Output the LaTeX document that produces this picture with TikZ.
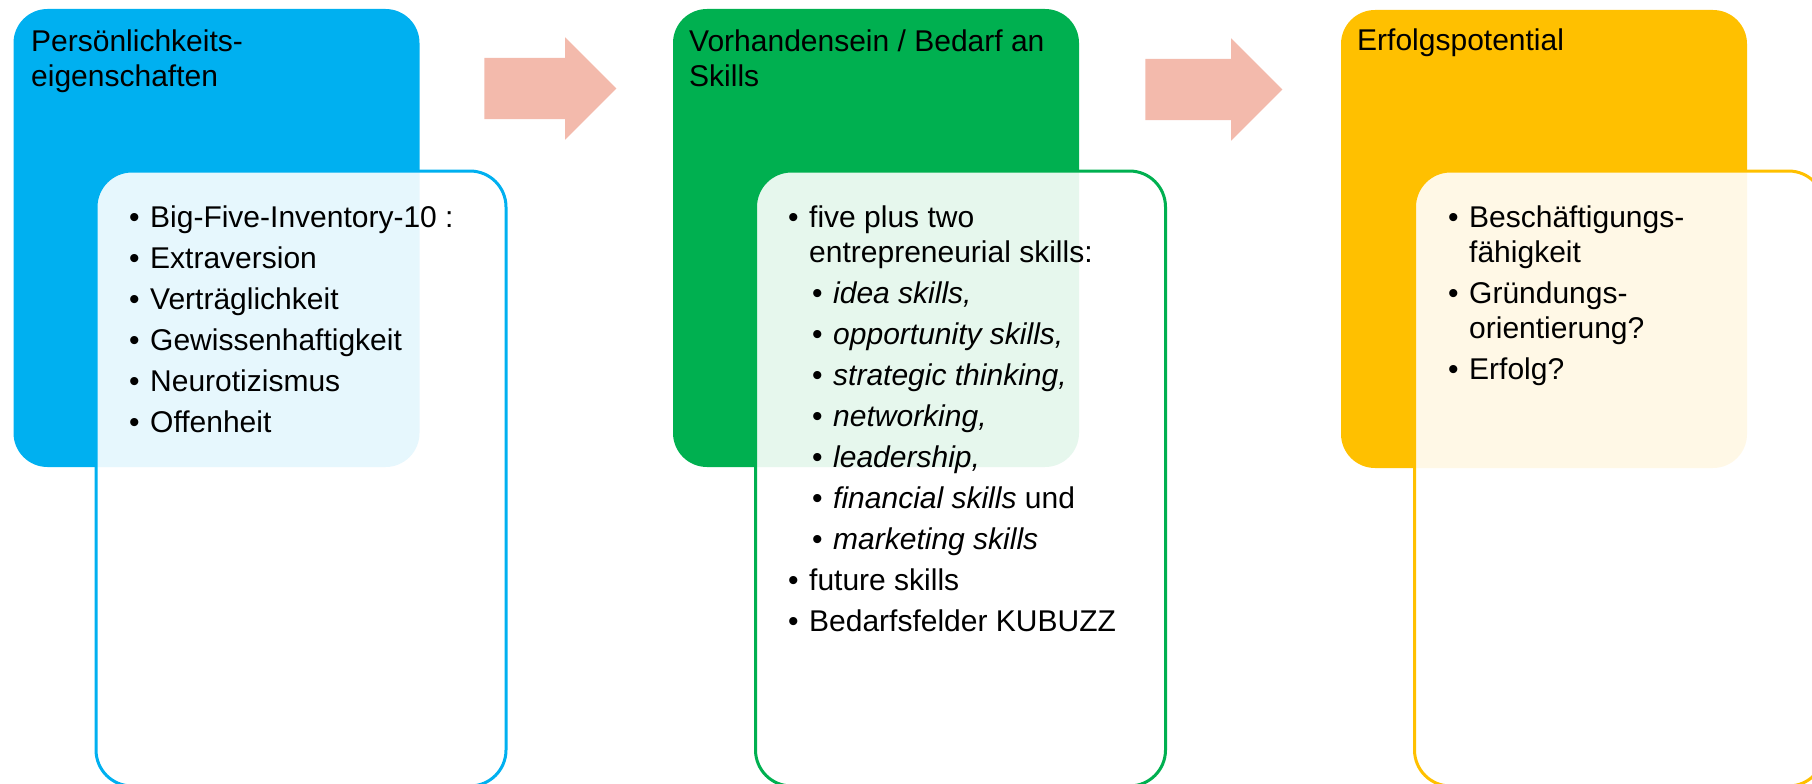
\documentclass[tikz,border=0pt]{standalone}
\usepackage{fontspec}
\setmainfont{Liberation Sans}
\usetikzlibrary{shapes.arrows}
\definecolor{cblue}{HTML}{00B0F0}
\definecolor{cgreen}{HTML}{00B050}
\definecolor{cyellow}{HTML}{FFC000}
\definecolor{carrow}{HTML}{F3BAAC}
\newcommand{\bul}{\llap{\textbullet\hspace{10.5pt}}}

\begin{document}
\begin{tikzpicture}[x=1pt,y=-1pt]
        \tikzstyle{outerbox}=[rectangle,rounded corners=34pt,inner sep=0pt,minimum width=406pt,minimum height=458pt]
        \tikzstyle{innerbox}=[rectangle,rounded corners=36pt,line width=3pt,fill=white,fill opacity=0.9,inner sep=0pt,minimum width=410pt,minimum height=615pt]
        \tikzstyle{headline}=[anchor=base west,inner sep=0pt,align=left,font=\fontsize{30}{35}\selectfont]
        \tikzstyle{itm}=[anchor=base west,inner sep=0pt,align=left,font=\fontsize{30}{35}\selectfont]
        \tikzstyle{flow}=[single arrow,fill=carrow,inner xsep=0pt,inner ysep=30.5pt,single arrow head extend=20.5pt,single arrow head indent=0pt]
        \useasboundingbox (0,0) rectangle (1812,784);

        % the three stages
        \node [outerbox,fill=cblue] (pers) at (216.5,238) {};
        \node [outerbox,fill=cgreen] (skill) at (876,238) {};
        \node [outerbox,fill=cyellow] (pot) at (1544,239) {};

        \node [flow,minimum height=132pt] (a1) at (535,88.5) {};
        \node [flow,minimum height=137pt] (a2) at (1198.5,89.5) {};

        \node [innerbox,draw=cblue] (persin) at (301,478.5) {};
        \node [innerbox,draw=cgreen] (skillin) at (960.5,478.5) {};
        \node [innerbox,draw=cyellow] (potin) at (1619.5,478.5) {};

        % headlines (base = last line)
        \node [headline] (t1) at (31,86) {Persönlichkeits-\\eigenschaften};
        \node [headline] (t2) at (689,86) {Vorhandensein / Bedarf an\\Skills};
        \node [headline] (t3) at (1357,51) {Erfolgspotential};

        % Persoenlichkeit
        \node [itm] (p1) at (150,227) {\bul Big-Five-Inventory-10 :};
        \node [itm] (p2) at (150,268) {\bul Extraversion};
        \node [itm] (p3) at (150,309) {\bul Verträglichkeit};
        \node [itm] (p4) at (150,350) {\bul Gewissenhaftigkeit};
        \node [itm] (p5) at (150,391) {\bul Neurotizismus};
        \node [itm] (p6) at (150,432) {\bul Offenheit};

        % Skills
        \node [itm] (s1) at (809,262) {\bul five plus two\\entrepreneurial skills:};
        \node [itm] (s2) at (833,303) {\bul \textit{idea skills,}};
        \node [itm] (s3) at (833,344) {\bul \textit{opportunity skills,}};
        \node [itm] (s4) at (833,385) {\bul \textit{strategic thinking,}};
        \node [itm] (s5) at (833,426) {\bul \textit{networking,}};
        \node [itm] (s6) at (833,467) {\bul \textit{leadership,}};
        \node [itm] (s7) at (833,508) {\bul \textit{financial skills} und};
        \node [itm] (s8) at (833,549) {\bul \textit{marketing skills}};
        \node [itm] (s9) at (809,590) {\bul future skills};
        \node [itm] (s10) at (809,631) {\bul Bedarfsfelder KUBUZZ};

        % Erfolg
        \node [itm] (e1) at (1469,262) {\bul Beschäftigungs-\\fähigkeit};
        \node [itm] (e2) at (1469,338) {\bul Gründungs-\\orientierung?};
        \node [itm] (e3) at (1469,379) {\bul Erfolg?};
\end{tikzpicture}
\end{document}
